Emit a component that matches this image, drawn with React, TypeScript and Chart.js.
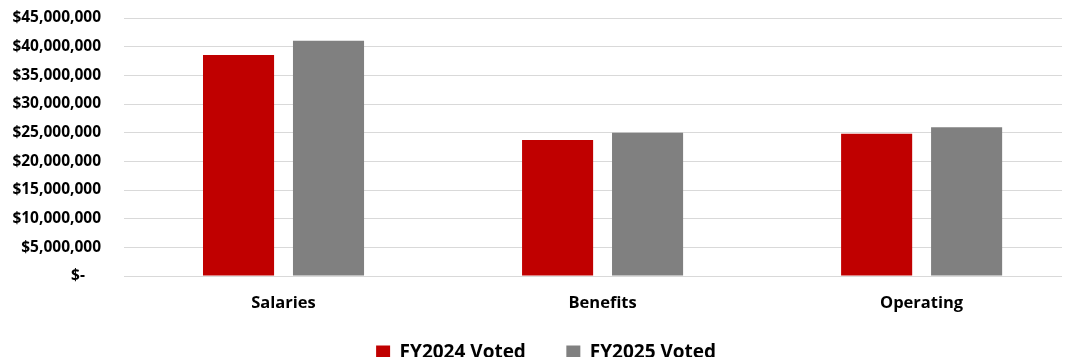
import React, { useEffect, useRef } from "react";
import { Chart, registerables } from "chart.js";

Chart.register(...registerables);

const categories = ["Salaries", "Benefits", "Operating"];
const fy2024 = [38550000, 23720000, 24800000];
const fy2025 = [41040000, 25000000, 25930000];
const seriesNames = ["FY2024 Voted", "FY2025 Voted"];
const FONT = "'Open Sans', sans-serif";

function fmt(v: number): string {
  if (v === 0) return "$-    ";
  return "$" + v.toLocaleString("en-US");
}

export default function App() {
  const ref = useRef<HTMLCanvasElement | null>(null);
  useEffect(() => {
    if (!ref.current) return;
    const baseGen = (Chart.defaults as any).plugins.legend.labels.generateLabels;
    const chart = new Chart(ref.current, {
      type: "bar",
      data: {
        labels: categories,
        datasets: [
          { label: seriesNames[0], data: fy2024, backgroundColor: "#C00000", categoryPercentage: 0.564, barPercentage: 0.79 },
          { label: seriesNames[1], data: fy2025, backgroundColor: "#808080", categoryPercentage: 0.564, barPercentage: 0.79 },
        ],
      },
      options: {
        animation: false,
        responsive: true,
        maintainAspectRatio: false,
        layout: { padding: { left: 0, right: 8, top: 18, bottom: -15 } },
        plugins: {
          tooltip: { enabled: false },
          legend: {
            position: "bottom",
            fullSize: false,
            labels: {
              boxWidth: 14,
              boxHeight: 14,
              padding: 4,
              color: "#000",
              font: { family: FONT, size: 19, weight: "bold" },
              generateLabels: (c: any) => {
                const items = baseGen(c);
                if (items.length > 0) items[0].text = items[0].text + "       \u200A";
                if (items.length > 1) items[1].text = items[1].text + " ".repeat(19);
                return items;
              },
            },
          },
        },
        scales: {
          x: {
            grid: { display: false },
            border: { display: false },
            ticks: { color: "#000", font: { family: FONT, size: 16.5, weight: "bold" }, padding: 9 },
            afterFit: (s: any) => { s.height = 63; },
            afterBuildTicks: (s: any) => {
              s._startValue = -0.5;
              s._valueRange = 2.94;
            },
          },
          y: {
            min: 0,
            max: 45000000,
            border: { display: false },
            grid: { color: "#d9d9d9", drawTicks: true, tickLength: 23, tickColor: "rgba(0,0,0,0)", lineWidth: 1 },
            afterFit: (s: any) => { s.width = 124; },
            ticks: {
              stepSize: 5000000,
              color: "#000",
              padding: 0,
              font: { family: FONT, size: 15.5, weight: "bold" },
              callback: (v: any) => fmt(Number(v)),
            },
          },
        },
      },
    });
    return () => chart.destroy();
  }, []);
  return (
    <div style={{ position: "fixed", left: 0, top: 0, width: 1070, height: 357, background: "#fff" }}>
      <canvas ref={ref} />
    </div>
  );
}
